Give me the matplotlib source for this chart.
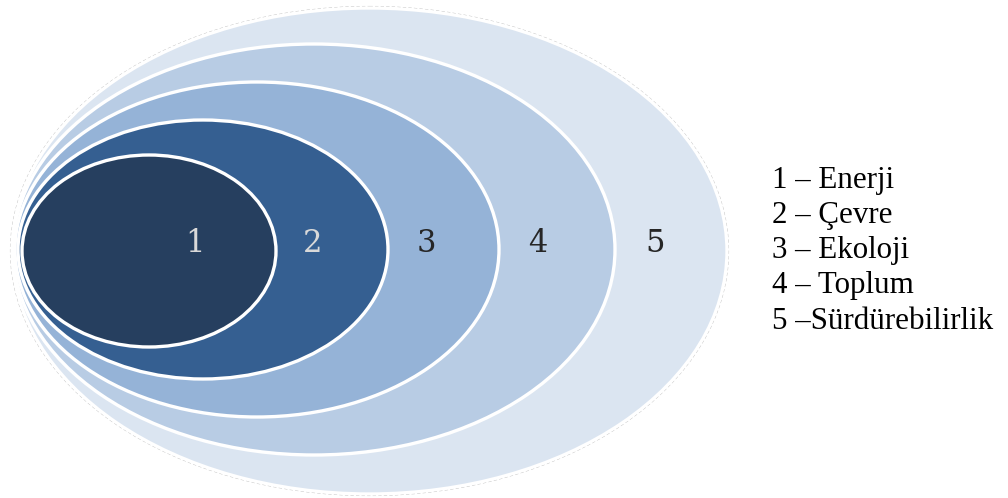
import matplotlib
matplotlib.use("Agg")
import matplotlib.pyplot as plt
from matplotlib.patches import Ellipse

# ---- data ----
levels = ["1", "2", "3", "4", "5"]
names = ["Enerji", "Çevre", "Ekoloji", "Toplum", "Sürdürebilirlik"]
separators = [" – ", " – ", " – ", " – ", " –"]
# nested ellipse extents (pixel space of the diagram): left, right, top, bottom
left_edge = [22, 18, 15, 13, 12]
right_edge = [276, 388, 499, 615, 727]
top_edge = [155, 120, 82, 44, 8]
bottom_edge = [347, 379, 417, 455, 494]
fill_colors = ["#263F5F", "#355F91", "#95B3D7", "#B8CCE4", "#DBE5F1"]
number_x = [195, 313, 426, 538, 655]
number_colors = ["#D9D9D9", "#D9D9D9", "#262626", "#262626", "#262626"]

W, H = 1008, 498
fig = plt.figure(figsize=(W / 100, H / 100), dpi=100)
ax = fig.add_axes([0, 0, 1, 1])
ax.set_xlim(0, W)
ax.set_ylim(H, 0)
ax.axis("off")

# draw from outermost to innermost
for i in reversed(range(len(levels))):
    cx = (left_edge[i] + right_edge[i]) / 2
    cy = (top_edge[i] + bottom_edge[i]) / 2
    w = right_edge[i] - left_edge[i]
    h = bottom_edge[i] - top_edge[i]
    if i == len(levels) - 1:
        ax.add_patch(Ellipse((cx, cy), w + 3, h + 3, facecolor="none",
                             edgecolor="#BFBFBF", lw=0.8, ls=(0, (3, 2)), zorder=1))
    ax.add_patch(Ellipse((cx, cy), w, h, facecolor=fill_colors[i],
                         edgecolor="white", lw=2.4, zorder=2 + (4 - i)))

for i, lab in enumerate(levels):
    ax.text(number_x[i], 243, lab, ha="center", va="center", fontsize=22,
            family="DejaVu Serif", color=number_colors[i], zorder=10,
            fontweight="light")

legend_y0 = 180
for i, (lab, sep, nm) in enumerate(zip(levels, separators, names)):
    ax.text(772, legend_y0 + i * 35.3, lab + sep + nm, ha="left", va="center",
            fontsize=22.3, family="Liberation Serif", color="black")

fig.savefig("out.png", dpi=100)
